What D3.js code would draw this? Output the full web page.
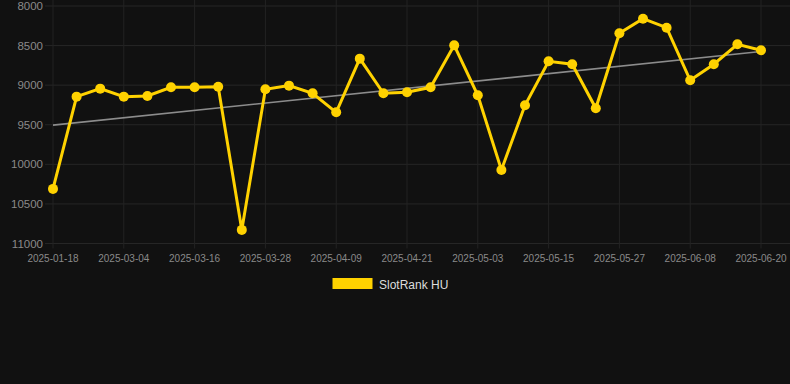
<!DOCTYPE html>
<html lang="en">
<head>
<meta charset="utf-8">
<title>SlotRank HU</title>
<script src="https://d3js.org/d3.v7.min.js"></script>
<style>
  html, body { margin: 0; padding: 0; background: #111111; }
  svg { display: block; font-family: "Liberation Sans", Arial, sans-serif; }
</style>
</head>
<body>
<script>
// dates on the x axis (categorical, every third one is labelled)
var dates = [
  "2025-01-18", "2025-02-24", "2025-02-28", "2025-03-04", "2025-03-08", "2025-03-12",
  "2025-03-16", "2025-03-20", "2025-03-24", "2025-03-28", "2025-04-01", "2025-04-05",
  "2025-04-09", "2025-04-13", "2025-04-17", "2025-04-21", "2025-04-25", "2025-04-29",
  "2025-05-03", "2025-05-07", "2025-05-11", "2025-05-15", "2025-05-19", "2025-05-23",
  "2025-05-27", "2025-05-31", "2025-06-04", "2025-06-08", "2025-06-12", "2025-06-16",
  "2025-06-20"
];

// rank values (lower is better, axis is reversed)
var ranks = [
  10310, 9145, 9044, 9145, 9136, 9027,
  9027, 9019, 10828, 9052, 9006, 9103,
  9343, 8665, 9103, 9090, 9027, 8497,
  9128, 10071, 9254, 8699, 8736, 9292,
  8345, 8160, 8274, 8938, 8736, 8484,
  8559
];

var yTicks = [8000, 8500, 9000, 9500, 10000, 10500, 11000];
var seriesName = "SlotRank HU";

var w = 790, h = 384;
var plotLeft = 53, plotRight = 761, plotTop = 6, plotBottom = 243.5;

var svg = d3.select("body").append("svg")
  .attr("width", w)
  .attr("height", h);

var x = d3.scalePoint()
  .domain(dates)
  .range([plotLeft, plotRight]);

var y = d3.scaleLinear()
  .domain([8000, 11000])
  .range([plotTop, plotBottom]);

// horizontal grid + y labels
svg.append("g").selectAll("line")
  .data(yTicks)
  .enter().append("line")
    .attr("x1", 45).attr("x2", w)
    .attr("y1", function(d) { return y(d); })
    .attr("y2", function(d) { return y(d); })
    .attr("stroke", "#262626")
    .attr("stroke-width", 1);

svg.append("g").selectAll("text")
  .data(yTicks)
  .enter().append("text")
    .attr("x", 43)
    .attr("y", function(d) { return y(d) + 4; })
    .attr("text-anchor", "end")
    .attr("fill", "#8a8a8a")
    .style("font-size", "11.5px")
    .text(function(d) { return d; });

// vertical grid at labelled dates
var labelled = dates.filter(function(d, i) { return i % 3 === 0; });

svg.append("g").selectAll("line")
  .data(labelled)
  .enter().append("line")
    .attr("x1", function(d) { return x(d); })
    .attr("x2", function(d) { return x(d); })
    .attr("y1", 0).attr("y2", plotBottom + 5)
    .attr("stroke", "#232323")
    .attr("stroke-width", 1);

svg.append("g").selectAll("text")
  .data(labelled)
  .enter().append("text")
    .attr("x", function(d) { return x(d); })
    .attr("y", 262)
    .attr("text-anchor", "middle")
    .attr("fill", "#8a8a8a")
    .style("font-size", "10px")
    .text(function(d) { return d; });

// linear trend (least squares on index)
var n = ranks.length;
var mi = (n - 1) / 2;
var my = d3.mean(ranks);
var sxy = 0, sxx = 0;
ranks.forEach(function(v, i) { sxy += (i - mi) * (v - my); sxx += (i - mi) * (i - mi); });
var slope = sxy / sxx;
var trend = [0, n - 1].map(function(i) { return [i, my + slope * (i - mi)]; });

svg.append("line")
  .attr("x1", x(dates[trend[0][0]])).attr("y1", y(trend[0][1]))
  .attr("x2", x(dates[trend[1][0]])).attr("y2", y(trend[1][1]))
  .attr("stroke", "#8c8c8c")
  .attr("stroke-width", 1.6);

// main series
var line = d3.line()
  .x(function(d, i) { return x(dates[i]); })
  .y(function(d) { return y(d); });

svg.append("path")
  .datum(ranks)
  .attr("d", line)
  .attr("fill", "none")
  .attr("stroke", "#ffd200")
  .attr("stroke-width", 3)
  .attr("stroke-linejoin", "miter");

svg.append("g").selectAll("circle")
  .data(ranks)
  .enter().append("circle")
    .attr("cx", function(d, i) { return x(dates[i]); })
    .attr("cy", function(d) { return y(d); })
    .attr("r", 5)
    .attr("fill", "#ffd200");

// legend
var legend = svg.append("g");
legend.append("rect")
  .attr("x", 332.5).attr("y", 278)
  .attr("width", 40).attr("height", 11)
  .attr("fill", "#ffd200");
legend.append("text")
  .attr("x", 379).attr("y", 288.5)
  .attr("fill", "#dddddd")
  .style("font-size", "12px")
  .text(seriesName);
</script>
</body>
</html>
